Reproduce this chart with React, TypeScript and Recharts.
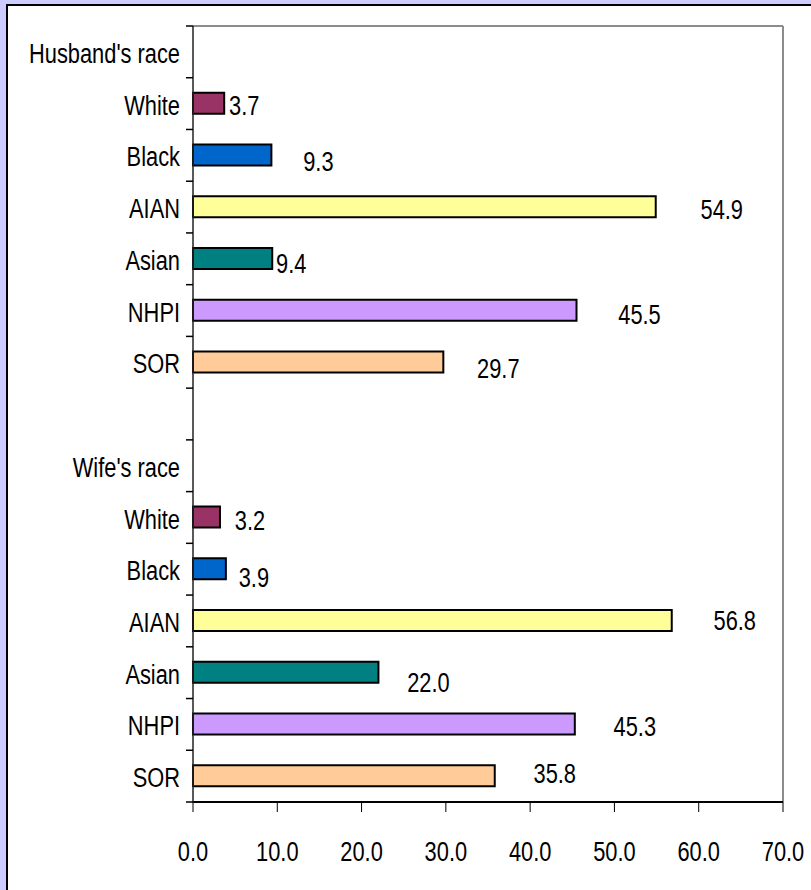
import { BarChart, Bar, XAxis, YAxis, Cell, LabelList, CartesianGrid } from 'recharts';

const RACES = ['White', 'Black', 'AIAN', 'Asian', 'NHPI', 'SOR'];
const HUSBAND_VALUES = [3.7, 9.3, 54.9, 9.4, 45.5, 29.7];
const WIFE_VALUES = [3.2, 3.9, 56.8, 22.0, 45.3, 35.8];
const X_TICKS = [0, 10, 20, 30, 40, 50, 60, 70];

const RACE_COLORS = ['#993366', '#0066CC', '#FFFF99', '#008080', '#CC99FF', '#FFCC99'];
const FONT = "'Liberation Sans', Arial, sans-serif";
const FS = 28;
const SX = 0.78; // squeeze text sideways, like the narrow excel font

// hand-placed label nudges (excel style), husband rows then wife rows
const LABEL_DX = [20, 47, 66, 19, 63, 55, 30, 28, 63, 50, 60, 60];
const LABEL_DY = [2, 6, 2, 5, 4, 6, 3, 8, -1, 10, 2, -3];

const CHART_W = 811;
const CHART_H = 890;
const MARGIN = { top: 26, right: 28, left: 0, bottom: 30 };
const X_AXIS_H = 58;
const ROW_COUNT = 15;
const BAND = (CHART_H - MARGIN.top - MARGIN.bottom - X_AXIS_H) / ROW_COUNT;

type Row = { name: string; value: number | null; color: string; lab: number };

const rows: Row[] = [];
rows.push({ name: "Husband's race", value: null, color: '#fff', lab: -1 });
RACES.forEach((r, i) => rows.push({ name: r, value: HUSBAND_VALUES[i], color: RACE_COLORS[i], lab: i }));
rows.push({ name: '', value: null, color: '#fff', lab: -1 });
rows.push({ name: "Wife's race", value: null, color: '#fff', lab: -1 });
RACES.forEach((r, i) => rows.push({ name: r, value: WIFE_VALUES[i], color: RACE_COLORS[i], lab: i + 6 }));

function SqText({ x, y, anchor, children }: { x: number; y: number; anchor: string; children: any }) {
  return (
    <text
      transform={`translate(${x},${y}) scale(${SX},1)`}
      textAnchor={anchor}
      dominantBaseline="central"
      fontSize={FS}
      fontFamily={FONT}
      fill="#000"
    >
      {children}
    </text>
  );
}

function BarLabel(props: any) {
  const { x, y, width, height, value } = props;
  if (value == null) return null;
  const [labStr, numStr] = String(value).split('|');
  const lab = Number(labStr);
  return (
    <SqText x={x + width + LABEL_DX[lab]} y={y + height / 2 + LABEL_DY[lab]} anchor="middle">
      {Number(numStr).toFixed(1)}
    </SqText>
  );
}

function CatTick(props: any) {
  const { x, y, payload, index } = props;
  const axisX = x + 13;
  return (
    <g>
      <SqText x={x} y={y + 1} anchor="end">
        {payload.value}
      </SqText>
      <line x1={axisX - 7} x2={axisX} y1={y - BAND / 2} y2={y - BAND / 2} stroke="#000" strokeWidth={1.5} />
      {index === ROW_COUNT - 1 && (
        <line x1={axisX - 7} x2={axisX} y1={y + BAND / 2} y2={y + BAND / 2} stroke="#000" strokeWidth={1.5} />
      )}
    </g>
  );
}

function NumTick(props: any) {
  const { x, y, payload } = props;
  return (
    <SqText x={x} y={y + 21} anchor="middle">
      {Number(payload.value).toFixed(1)}
    </SqText>
  );
}

export default function App() {
  return (
    <div style={{ position: 'fixed', left: 0, top: 0, width: CHART_W, height: CHART_H, background: '#CCCCFF', overflow: 'hidden' }}>
      <div style={{ position: 'absolute', left: 6, top: 4, right: -20, bottom: -20, background: '#fff', borderLeft: '2px solid #000', borderTop: '2px solid #000' }} />
      <div style={{ position: 'absolute', left: 0, top: 0 }}>
        <BarChart
          width={CHART_W}
          height={CHART_H}
          data={rows}
          layout="vertical"
          margin={MARGIN}
          barCategoryGap="30%"
        >
          <CartesianGrid
            stroke="#8c8c8c"
            strokeWidth={2}
            horizontalCoordinatesGenerator={({ offset }: any) => [offset.top]}
            verticalCoordinatesGenerator={({ offset }: any) => [offset.left + offset.width]}
          />
          <XAxis
            type="number"
            domain={[0, 70]}
            ticks={X_TICKS}
            height={X_AXIS_H}
            axisLine={{ stroke: '#000', strokeWidth: 2 }}
            tickLine={{ stroke: '#000' }}
            tickSize={10}
            tickMargin={18}
            tick={NumTick}
          />
          <YAxis
            type="category"
            dataKey="name"
            width={193}
            axisLine={{ stroke: '#222', strokeWidth: 1.5 }}
            tickLine={false}
            tickSize={0}
            tickMargin={13}
            interval={0}
            tick={CatTick}
          />
          <Bar dataKey="value" barSize={21} stroke="#000" strokeWidth={2} isAnimationActive={false}>
            {rows.map((r, i) => (
              <Cell key={`c-${i}`} fill={r.color} />
            ))}
            <LabelList
              dataKey={(r: Row) => (r.value == null ? null : `${r.lab}|${r.value}`)}
              content={BarLabel}
            />
          </Bar>
        </BarChart>
      </div>
    </div>
  );
}
